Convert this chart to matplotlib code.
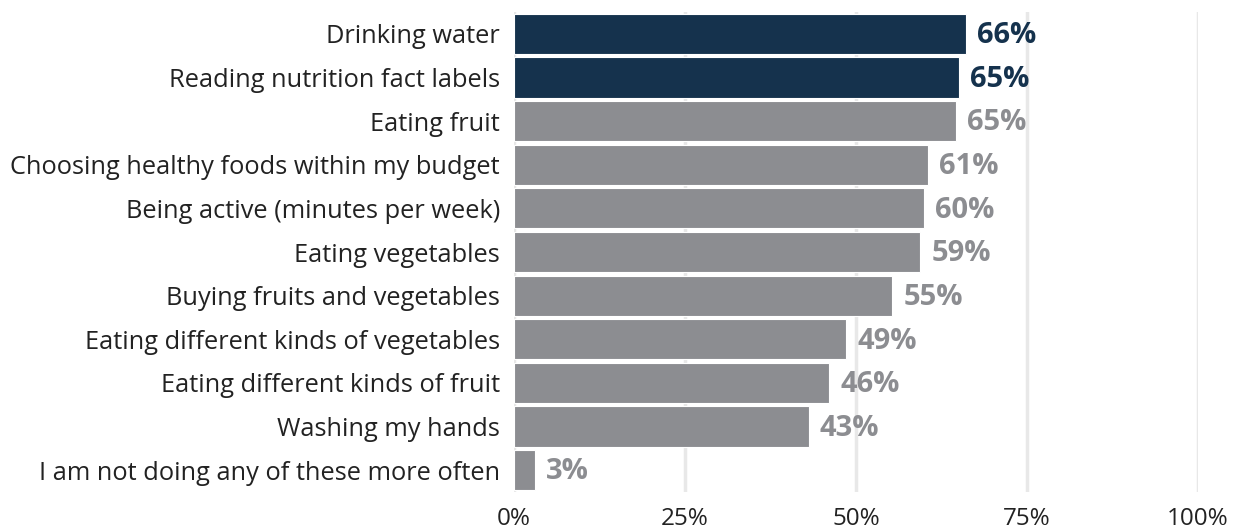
import matplotlib
matplotlib.use("Agg")
import matplotlib.pyplot as plt

categories = [
    "Drinking water",
    "Reading nutrition fact labels",
    "Eating fruit",
    "Choosing healthy foods within my budget",
    "Being active (minutes per week)",
    "Eating vegetables",
    "Buying fruits and vegetables",
    "Eating different kinds of vegetables",
    "Eating different kinds of fruit",
    "Washing my hands",
    "I am not doing any of these more often",
]
values = [66.1, 65.0, 64.6, 60.5, 60.0, 59.4, 55.3, 48.6, 46.1, 43.1, 3.1]
labels = ["66%", "65%", "65%", "61%", "60%", "59%", "55%", "49%", "46%", "43%", "3%"]
highlight = [True, True] + [False] * 9
xticks = [0, 25, 50, 75, 100]
xticklabels = ["0%", "25%", "50%", "75%", "100%"]

DARK = "#15324d"
GRAY = "#8c8d91"

plt.rcParams['font.family'] = ['Open Sans', 'DejaVu Sans']

fig = plt.figure(figsize=(12.34, 5.29), dpi=100)
ax = fig.add_axes([514/1234, 1 - 492/529, (1198-514)/1234, 480/529])

ypos = list(range(len(categories)))
colors = [DARK if h else GRAY for h in highlight]
ax.barh(ypos, values, height=0.92, color=colors, edgecolor="white", linewidth=0.8, zorder=3)
for y, v, lab, c in zip(ypos, values, labels, colors):
    ax.text(v + 1.6, y + 0.04, lab, va="center", ha="left", fontsize=21, fontweight="bold", color=c)

ax.set_ylim(len(categories) - 0.5, -0.5)
ax.set_xlim(0, 100)
ax.set_yticks(ypos)
ax.set_yticklabels(categories, fontsize=18.3, color="#222222")
ax.set_xticks(xticks)
ax.set_xticklabels(xticklabels, fontsize=17.5, color="#222222")
ax.tick_params(axis="y", length=0, pad=10)
ax.tick_params(axis="x", length=0, pad=11)
ax.grid(axis="x", color="#e8e8e8", linewidth=2.5, zorder=0)
for s in ax.spines.values():
    s.set_visible(False)

fig.savefig("out.png", dpi=100)
